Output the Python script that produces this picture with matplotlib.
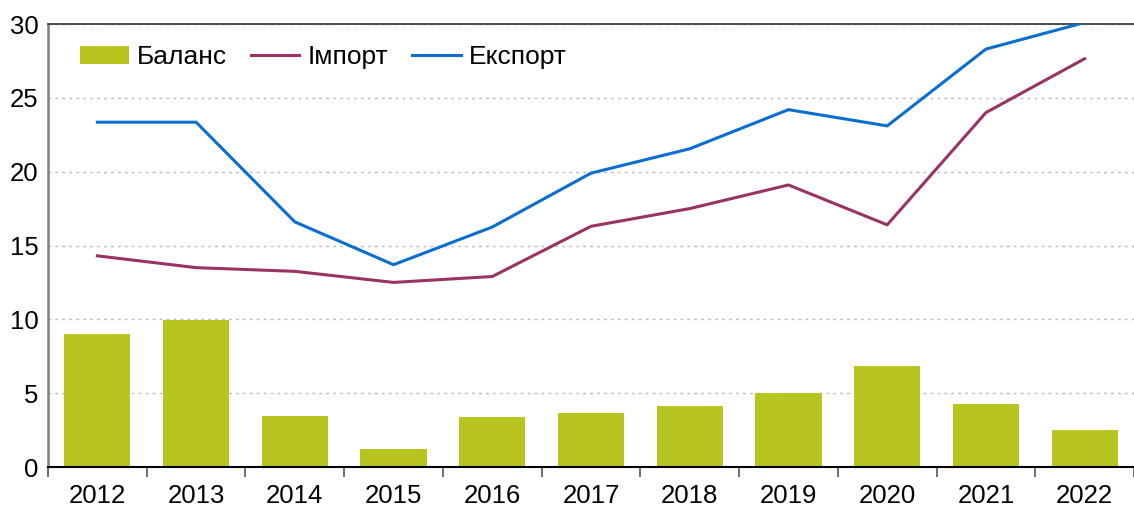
import numpy as np
import matplotlib.pyplot as plt

# Data
years = ["2012", "2013", "2014", "2015", "2016", "2017", "2018", "2019", "2020", "2021", "2022"]
balance = [9.04, 9.94, 3.46, 1.25, 3.37, 3.66, 4.11, 5.02, 6.85, 4.27, 2.53]
imports = [14.3, 13.5, 13.25, 12.5, 12.9, 16.3, 17.5, 19.1, 16.4, 24.0, 27.65]
exports = [23.35, 23.35, 16.6, 13.7, 16.25, 19.9, 21.55, 24.2, 23.1, 28.3, 30.1]

plt.rcParams["font.family"] = ["Liberation Sans", "DejaVu Sans"]

W, H = 1134, 511
fig = plt.figure(figsize=(W / 100, H / 100), dpi=100)
ax = fig.add_axes([48 / W, 1 - 467 / H, (W - 48) / W, (467 - 24) / H])

x = np.arange(len(years))
bars = ax.bar(x, balance, width=0.67, color="#B8C41F", label="Баланс", zorder=2)
l_imp, = ax.plot(x, imports, color="#993366", lw=2.2, label="Імпорт", zorder=3)
l_exp, = ax.plot(x, exports, color="#0A6ED1", lw=2.2, label="Експорт", zorder=3)

# Axis limits and ticks
ax.set_ylim(0, 30)
ax.set_xlim(-0.5, -0.5 + (W - 48) / 99.6)
ax.set_yticks(range(0, 31, 5))
ax.tick_params(axis="y", length=0, pad=7, labelsize=18.5)
ax.set_xticks(x)
ax.set_xticklabels(years)
ax.set_xticks(np.arange(-0.5, len(years), 1), minor=True)
ax.tick_params(axis="x", which="major", length=0, pad=12, labelsize=18.5)
ax.tick_params(axis="x", which="minor", length=7, width=1.2, color="#555555")

ax.yaxis.grid(True, linestyle=(0, (2, 3)), color="#BBBBBB", lw=1)
ax.set_axisbelow(True)

ax.spines["left"].set_color("#808080")
ax.spines["left"].set_linewidth(1.8)
ax.spines["bottom"].set_color("black")
ax.spines["bottom"].set_linewidth(1.5)
ax.spines["top"].set_color("#404040")
ax.spines["top"].set_linewidth(1.3)
ax.spines["right"].set_visible(False)

ax.legend([bars, l_imp, l_exp], ["Баланс", "Імпорт", "Експорт"],
          loc="center left", bbox_to_anchor=(80 / W, 1 - 57 / H), bbox_transform=fig.transFigure,
          ncol=3, frameon=False, fontsize=19, borderpad=0, borderaxespad=0,
          handlelength=1.85, handletextpad=0.3, columnspacing=0.9)

fig.savefig("out.png", dpi=100)
